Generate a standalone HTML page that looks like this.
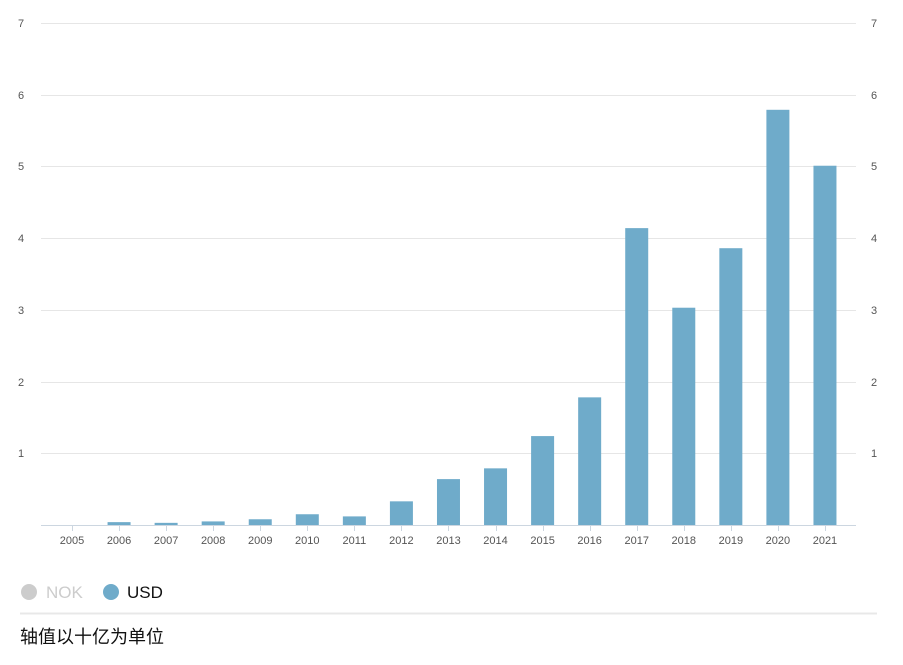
<!DOCTYPE html>
<html><head><meta charset="utf-8"><style>
body{margin:0;background:#fff;width:903px;height:660px;overflow:hidden;font-family:"Liberation Sans","Noto Sans CJK SC",sans-serif}
</style></head><body>
<svg width="903" height="660" xmlns="http://www.w3.org/2000/svg" font-family="Liberation Sans, Noto Sans CJK SC, sans-serif">
<g stroke="#e6e6e6" stroke-width="1">
<line x1="41" x2="856" y1="23.5" y2="23.5"/><line x1="41" x2="856" y1="95.5" y2="95.5"/>
<line x1="41" x2="856" y1="166.5" y2="166.5"/><line x1="41" x2="856" y1="238.5" y2="238.5"/>
<line x1="41" x2="856" y1="310.5" y2="310.5"/><line x1="41" x2="856" y1="382.5" y2="382.5"/>
<line x1="41" x2="856" y1="453.5" y2="453.5"/>
</g>
<g font-size="11" fill="#555">
<text x="18" y="27">7</text><text x="18" y="99">6</text><text x="18" y="170">5</text><text x="18" y="242">4</text><text x="18" y="314">3</text><text x="18" y="386">2</text><text x="18" y="457">1</text>
<text x="871" y="27">7</text><text x="871" y="99">6</text><text x="871" y="170">5</text><text x="871" y="242">4</text><text x="871" y="314">3</text><text x="871" y="386">2</text><text x="871" y="457">1</text>
</g>
<g fill="#6fabca" id="bars"></g>
<line x1="41" x2="856" y1="525.5" y2="525.5" stroke="#ccd6e0"/>
<g id="ticks" stroke="#ccd6e0"></g>
<g id="labels" font-size="11" fill="#555" text-anchor="middle"></g>
<circle cx="29" cy="592" r="8" fill="#ccc"/>
<text x="46" y="598" font-size="17" fill="#ccc">NOK</text>
<circle cx="111" cy="592" r="8" fill="#6fabca"/>
<text x="127" y="598" font-size="17" fill="#111">USD</text>
<line x1="20" x2="877" y1="613.5" y2="613.5" stroke="#e8e8e8" stroke-width="2"/>
<text x="20" y="643" font-size="18" fill="#111">轴值以十亿为单位</text>
</svg>
<script>
var v=[0,0.04,0.03,0.05,0.08,0.15,0.12,0.33,0.64,0.79,1.24,1.78,4.14,3.03,3.86,5.79,5.01];
var ns="http://www.w3.org/2000/svg",b=document.getElementById('bars'),t=document.getElementById('ticks'),l=document.getElementById('labels');
for(var i=0;i<17;i++){var cx=72+i*47.06,h=v[i]*71.71;
if(h>0){var r=document.createElementNS(ns,'rect');r.setAttribute('x',cx-11.5);r.setAttribute('width',23);r.setAttribute('y',525-h);r.setAttribute('height',h);b.appendChild(r);}
var k=document.createElementNS(ns,'line');k.setAttribute('x1',Math.round(cx)+.5);k.setAttribute('x2',Math.round(cx)+.5);k.setAttribute('y1',526);k.setAttribute('y2',531);t.appendChild(k);
var s=document.createElementNS(ns,'text');s.setAttribute('x',cx);s.setAttribute('y',544);s.textContent=2005+i;l.appendChild(s);}
</script>
</body></html>
